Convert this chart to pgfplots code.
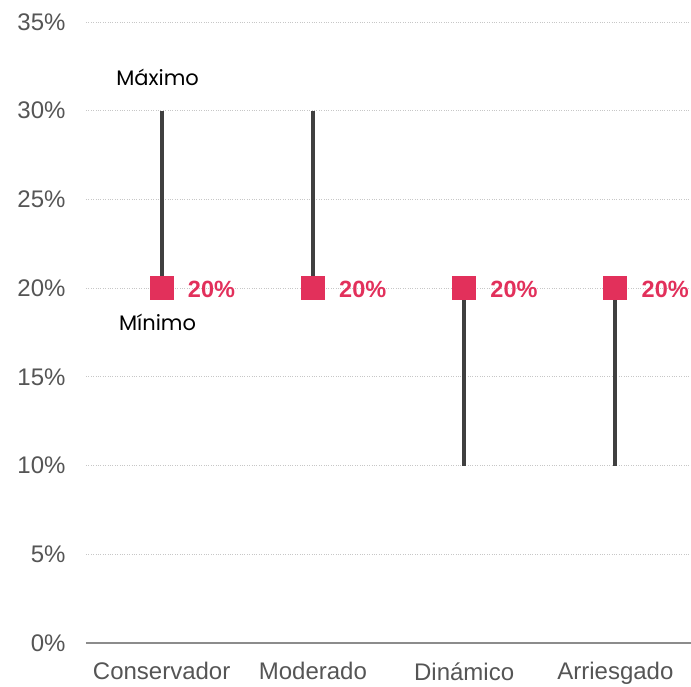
\documentclass[border=0pt]{standalone}
\usepackage{pgfplots}
\pgfplotsset{compat=1.18}
\usepackage{fontspec}
\setmainfont{Liberation Sans}
\newfontfamily\poppins{Poppins}
\definecolor{rango}{HTML}{404040}
\definecolor{punto}{HTML}{E2305B}
\definecolor{ticktxt}{HTML}{555555}
\begin{document}
\begin{tikzpicture}
\begin{axis}[
    scale only axis,
    width=605pt, height=621pt,
    xmin=-0.5, xmax=3.5,
    ymin=0, ymax=35,
    axis lines*=left,
    y axis line style={draw=none},
    x axis line style={color=black!45, line width=1.3pt, -},
    xtick={0,1,2,3},
    xticklabels={Conservador,Moderado,Dinámico,Arriesgado},
    major tick length=0pt,
    ytick={0,5,...,35},
    yticklabel={\pgfmathprintnumber{\tick}\%},
    /pgf/number format/assume math mode=true,
    ymajorgrids,
    grid style={color=black!22, dotted, line width=0.8pt},
    tick label style={font=\fontsize{24}{28}\selectfont, text=ticktxt},
    xticklabel style={yshift=-16pt},
    yticklabel style={xshift=-17pt},
    clip=false,
]
% rangos (min a max)
\addplot[rango, line width=4pt] coordinates {(0,20) (0,30)};
\addplot[rango, line width=4pt] coordinates {(1,20) (1,30)};
\addplot[rango, line width=4pt] coordinates {(2,10) (2,20)};
\addplot[rango, line width=4pt] coordinates {(3,10) (3,20)};
% valor actual
\addplot[only marks, mark=square*, mark size=11.5pt,
    mark options={fill=punto, draw=punto, line width=0pt},
    point meta=explicit symbolic,
    nodes near coords,
    nodes near coords style={anchor=west, xshift=23pt, yshift=-1.5pt, text=punto,
        font=\fontsize{23.5}{28}\selectfont\bfseries},
] table[meta=lab] {
x y lab
0 20 20\%
1 20 20\%
2 20 20\%
3 20 20\%
};
\node[anchor=base, font=\poppins\fontsize{21}{25}\selectfont] at (axis cs:-0.027,31.4) {Máximo};
\node[anchor=base, font=\poppins\fontsize{21}{25}\selectfont] at (axis cs:-0.027,17.6) {Mínimo};
\coordinate (bl) at (rel axis cs:0,0);
\end{axis}
\pgfresetboundingbox
\path ([shift={(-86pt,-43pt)}]bl) rectangle ([shift={(605pt,643pt)}]bl);
\end{tikzpicture}
\end{document}
